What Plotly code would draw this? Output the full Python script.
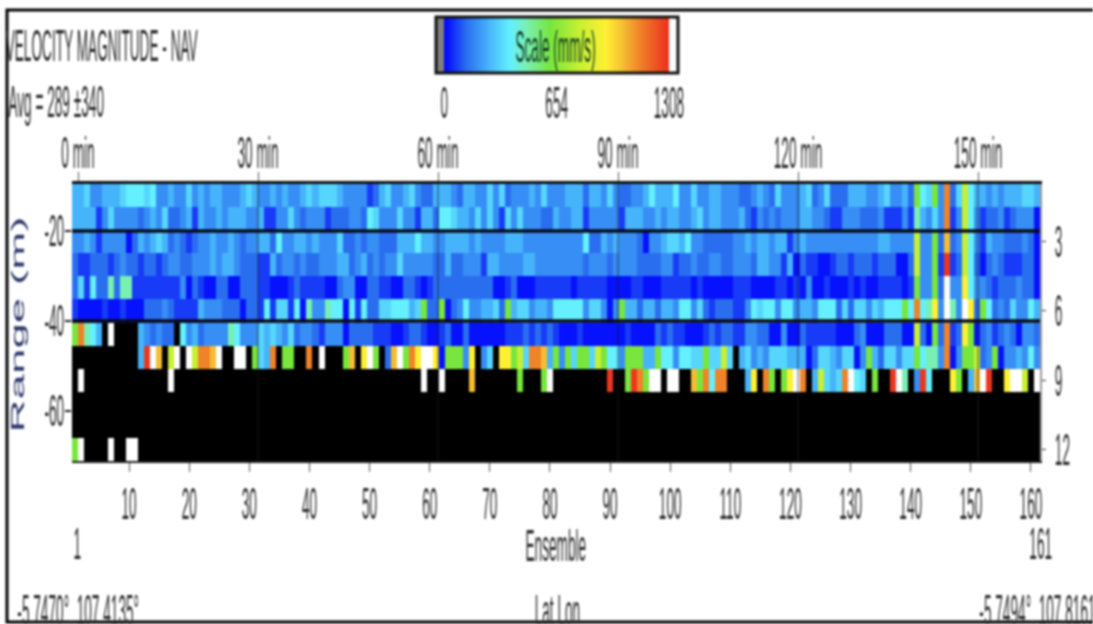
import plotly.graph_objects as go

W, H = 1093, 624
PL, PR, PT, PB = 72, 1040, 184, 461

# Reading of each cell, by colour band of the scale (mm/s); "." = no data
band_values = {"a": 20, "b": 70, "c": 130, "d": 190, "e": 260, "f": 330, "g": 385, "h": 480,
               "i": 620, "j": 790, "k": 940, "l": 1040, "m": 1140, "n": 1290, "w": 1350}

row_1 = "eefddeeefg ggfgddeddf dedeedddef eddededdef efffeddddb cefddefdcc eeedceeddf dfcdddedfd ddeeeceedf dccddegeee gddfddeedd dccdedcfdd defcdfccce eeddefddec igfidmcfjg eededeeeff e"
row_2 = "eeeebdfddd dcdedfccde beddedeeed debbddfdcd ddbcccddcg fdddfddbee cggfeedfdf dbfdfdddcc eddeebdddd dbeeeddede eddefdeedd decbdcdcdd deeddcbbdd dcccdbbbdb hedfdmbdjg dbccdbcddd a"
row_3 = "ddedbdddda cedefecdcb cddeddedcd deecgddeed edddfccdcd dccceeegee ddeeeededd ddeeeddddd dddddgcced edddcaddef fegddccccc ddedeedeeb dedddddddd ddddeedddd jddiclcdjg dbeddcccdc a"
row_4 = "cbbcccbcdc cbccbcddcc dddedeedcc cbbecddcdc cdddeecdec dcddfddddd cceccdddbe eddddeeddd dddddcdddc ddddccccdd bccdccddcc dddceeddbe acbbaabccb cccbcccaac jddibnbcjg cacdcbbbcc a"
row_5 = "cfbgcchchh bbbbbbbbda cbaaccaacc cbbaaabcbb bbaacddaac cbbaaccbab cccccccccc aabcaaabbb bbbabbbbba aaabbaaabb bbbabaaaaa bbbaaaabba badaabaaab abaabbbbab iddicwddkg ddcbcccdcc a"
row_6 = "baaaabaaba aacccdcbbb bedddcccac cbgbffbgah ddhggagbgc cffgggefic ciacdgddee fcieffdeed gggggdffda dieeceecee dggdfcbccc bbdgfggdgg deedgggcfc ffdfegggig mghkdwhdwk cigcdcfddg e"
row_7 = "imhge.w... .edcdcc.gd ecddddhgdd dfefedfcdd cbdddacccc bbbaabccba abcaacaaaa aabbbcbcbc baaabaaaaa aabaaaacbc bbaaabcbcc bbddccaada acbbbbbaaa cdaaacccaa jcaicmbcki acdbcdcadd c"
row_8 = ".......... .enwl.jw.w jmmlw..ww. ifem.ii..m .w...il.kw i.clwimkww kaiiidk.df .kkijfmmle idifiifjig gdiiieeigg dggffiffjf .efdedfffe eeacffedff adiecffdff ighhdmadii jcdiaddedg d"
row_9 = ".w........ ......w... .......... .......... .......... ........w. .w....l... ....i...iw .........n ..inmiww.w w..limgmm. ..ek.mi.ik wm.ejfefmw gf.i..nwh. dng...ki.e lwn..kwwj. w"
row_10 = ".......... .......... .......... .......... .......... .......... .......... .......... .......... .......... .......... .......... .......... .......... .......... .......... ."
row_11 = row_10
row_12 = "iw....w..w w......... .......... .......... .......... .......... .......... .......... .......... .......... .......... .......... .......... .......... .......... .......... ."
rows = [row_1, row_2, row_3, row_4, row_5, row_6, row_7, row_8, row_9, row_10, row_11, row_12]

ensemble_ticks = [10, 20, 30, 40, 50, 60, 70, 80, 90, 100, 110, 120, 130, 140, 150, 160]
minute_ticks = [0, 30, 60, 90, 120, 150]
bin_ticks = [3, 6, 9, 12]
range_ticks = [-20, -40, -60]
range_rules = [-20, -40]
scale_ticks = [0, 654, 1308]

z = []
for r in rows:
    cells = r.replace(" ", "")
    assert len(cells) == 161, len(cells)
    z.append([band_values.get(c) for c in cells])

CMIN, CMAX = -46, 1360
def stop(v):
    return (v - CMIN) / (CMAX - CMIN)
colorscale = [
    [0, "#808080"], [stop(-1), "#808080"], [stop(0), "#0000ff"], [stop(130), "#2a6ef0"],
    [stop(260), "#46b4fa"], [stop(385), "#64f0ff"], [stop(480), "#78f0b4"], [stop(620), "#78e63c"],
    [stop(790), "#c8f032"], [stop(940), "#fff032"], [stop(1040), "#f5be32"], [stop(1140), "#f08228"],
    [stop(1300), "#eb321e"], [stop(1308), "#eb321e"], [stop(1309), "#ffffff"], [1, "#ffffff"],
]

FONT = "Liberation Sans"
TXT = "#2c2c2c"
SIZE = 44
BAR_L, BAR_LEN = 436, 242

def px(x):
    return x / W
def py(y):
    return 1 - y / H

fig = go.Figure()
fig.add_trace(go.Heatmap(z=z, x=list(range(1, 162)), y=list(range(1, 13)), coloraxis="coloraxis",
                         xaxis="x", yaxis="y", hoverongaps=False))

# minute marks and range rules, on the upper and left scales
lx, ly = [], []
for m in minute_ticks[1:]:
    lx += [m, m, None]
    ly += [-5, -80, None]
fig.add_trace(go.Scatter(x=lx, y=ly, mode="lines", line=dict(color="rgba(20,30,40,0.75)", width=1),
                         xaxis="x2", yaxis="y2", hoverinfo="skip", showlegend=False))
rx, ry = [], []
for v in range_rules:
    rx += [-1, 161, None]
    ry += [v, v, None]
fig.add_trace(go.Scatter(x=rx, y=ry, mode="lines", line=dict(color="#0a0a14", width=3.5),
                         xaxis="x2", yaxis="y2", hoverinfo="skip", showlegend=False))

tick_font = dict(family=FONT, size=SIZE, color=TXT)
dom_x = [px(PL), px(PR)]
dom_y = [py(PB), py(PT)]

def note(text, x, y, **kw):
    fig.add_annotation(text=text, x=px(x), y=py(y), xref="paper", yref="paper", showarrow=False,
                       xanchor="center", yanchor="middle", font=kw.pop("font", tick_font), **kw)

note("VELOCITY MAGNITUDE - NAV", 102, 46)
note("Avg = 289 ±340", 56, 102)
note("Scale (mm/s)", 556, 47, font=dict(family=FONT, size=SIZE, color="#103820"))
for t in scale_ticks:
    note(str(t), BAR_L + (t - CMIN) * BAR_LEN / (CMAX - CMIN), 103)
note("1", 77, 543)
note("Ensemble", 556, 545)
note("161", 1040, 543)
note("-5.7470°, 107.4135°", 78, 610)
note("Lat Lon", 557, 610)
note("-5.7494°, 107.8161°", 1040, 610)
note("Range (m)", 18, 325, textangle=-90,
     font=dict(family=FONT, size=18, color="#2f3a6a"))

fig.add_shape(type="rect", xref="paper", yref="paper", x0=px(7), x1=1.01, y0=py(622), y1=py(10),
              line=dict(color="black", width=3), fillcolor="rgba(0,0,0,0)", layer="below")

fig.update_layout(
    width=W, height=H, margin=dict(l=0, r=0, t=0, b=0, autoexpand=False), autosize=False,
    paper_bgcolor="white", plot_bgcolor="black", showlegend=False,
    coloraxis=dict(cmin=CMIN, cmax=CMAX, colorscale=colorscale,
        colorbar=dict(orientation="h", lenmode="pixels", len=BAR_LEN, thicknessmode="pixels", thickness=56,
                      x=px(BAR_L), xanchor="left", y=py(76), yanchor="bottom", xpad=0, ypad=0,
                      showticklabels=False, ticks="", outlinewidth=3, outlinecolor="#111111",
                      borderwidth=0)),
    xaxis=dict(domain=dom_x, range=[0.5, 161.5], anchor="y", side="bottom", tickmode="array",
               tickvals=ensemble_ticks, ticktext=[str(t) for t in ensemble_ticks], tickangle=0,
               ticks="outside", ticklen=9, tickwidth=1, tickcolor="#555555", tickfont=tick_font,
               ticklabelstandoff=-6,
               showgrid=False, zeroline=False, showline=True, linecolor="#222222", linewidth=2),
    yaxis=dict(domain=dom_y, range=[12.5, 0.5], anchor="x", side="right", tickmode="array",
               tickvals=bin_ticks, ticktext=[str(t) for t in bin_ticks], ticks="outside", ticklen=4,
               tickcolor="#333333", tickfont=tick_font, showgrid=False, zeroline=False,
               showline=True, linecolor="#999999", linewidth=2),
    xaxis2=dict(overlaying="x", anchor="y", side="top", range=[-1, 160.33], tickmode="array",
                tickvals=minute_ticks, ticktext=[f"{m} min" for m in minute_ticks], tickangle=0,
                ticks="outside", ticklen=9, tickwidth=1, tickcolor="#555555", tickfont=tick_font,
                ticklabelstandoff=-14,
                showgrid=False, zeroline=False, showline=True, linecolor="#111111", linewidth=3),
    yaxis2=dict(overlaying="y", anchor="x", side="left", range=[-71.1, -9.56], tickmode="array",
                tickvals=range_ticks, ticktext=[str(t) for t in range_ticks], ticks="outside",
                ticklen=6, tickwidth=2, tickcolor="#222222", tickfont=tick_font, showgrid=False,
                ticklabelstandoff=-8, zeroline=False, showline=False),
)

post = """
document.body.style.margin = '0';
var gd = document.getElementById('{plot_id}');
gd.style.filter = 'blur(0.9px)';
gd.querySelectorAll('svg text').forEach(function (t) {
  var s = t.textContent;
  var w = t.getComputedTextLength();
  if (!w) return;
  var target = s.indexOf('Range') === 0 ? 216 : w * 0.31;
  t.setAttribute('textLength', target);
  t.setAttribute('lengthAdjust', 'spacingAndGlyphs');
});
"""
fig.write_html("out.html", post_script=post, config={"displayModeBar": False})
